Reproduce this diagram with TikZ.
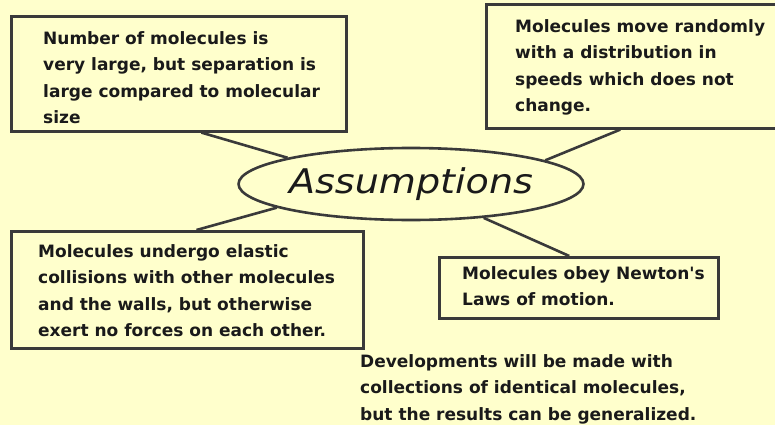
\documentclass[tikz,border=0pt]{standalone}
\usepackage{fontspec}
\usepackage{graphicx}
\usetikzlibrary{shapes.geometric,calc}
\newfontfamily\dvs{DejaVu Sans}
\definecolor{bgyellow}{HTML}{FFFFCC}
\definecolor{linegray}{HTML}{3A3A3A}
\definecolor{inkblack}{HTML}{1A1A1A}
\tikzset{
  boxshape/.style={draw=linegray, line width=2.6pt, rectangle, inner sep=0pt, anchor=north west},
  boxtext/.style={anchor=north west, inner sep=0pt, align=left, text=inkblack,
    font=\dvs\bfseries\fontsize{17}{26.5}\selectfont},
  hub/.style={draw=linegray, line width=2.6pt, ellipse, inner sep=0pt,
    minimum width=318pt, minimum height=72pt, text=inkblack,
    font=\dvs\itshape\fontsize{34}{40}\selectfont},
  conn/.style={draw=linegray, line width=2.6pt}
}
\begin{document}
\begin{tikzpicture}[x=1pt,y=-1pt]
\useasboundingbox (0,0) rectangle (775,425);
\fill[bgyellow] (0,0) rectangle (775,425);
\clip (0,0) rectangle (775,425);

% boxes
\node[boxshape, minimum width=335pt, minimum height=115pt] (b1) at (10,15) {};
\node[boxshape, minimum width=300pt, minimum height=124pt] (b2) at (485,3) {};
\node[boxshape, minimum width=352pt, minimum height=117pt] (b3) at (10,230) {};
\node[boxshape, minimum width=279pt, minimum height=61pt] (b4) at (438,256) {};

% texts
\node[boxtext] (t1) at (43,31) {Number of molecules is\\very large, but separation is\\large compared to molecular\\size};
\node[boxtext] (t2) at (515,19) {Molecules move randomly\\with a distribution in\\speeds which does not\\change.};
\node[boxtext] (t3) at (38,244) {Molecules undergo elastic\\collisions with other molecules\\and the walls, but otherwise\\exert no forces on each other.};
\node[boxtext] (t4) at (462,266) {Molecules obey Newton's\\Laws of motion.};
\node[boxtext] (t5) at (360,354) {Developments will be made with\\collections of identical molecules,\\but the results can be generalized.};

% central ellipse
\node[hub] (e) at (411,184) {\scalebox{1.12}[1]{Assumptions}};

% connectors
\draw[conn] ($(b1.south west)!0.567!(b1.south east)$) -- (e.168);
\draw[conn] ($(b2.south west)!0.447!(b2.south east)$) -- (e.10);
\draw[conn] ($(b3.north west)!0.526!(b3.north east)$) -- (e.190);
\draw[conn] ($(b4.north west)!0.466!(b4.north east)$) -- (e.335);
\end{tikzpicture}
\end{document}
